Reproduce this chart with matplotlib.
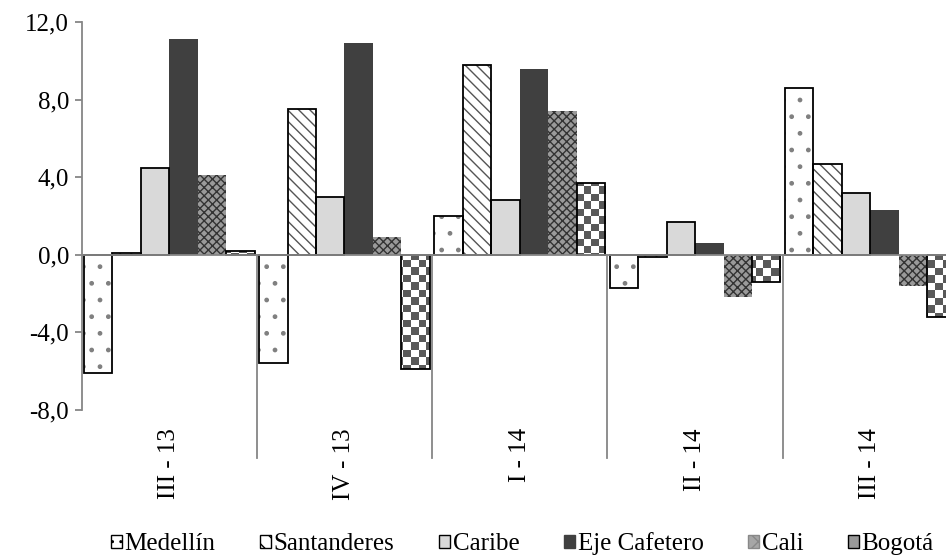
import matplotlib
matplotlib.use("Agg")
import matplotlib.pyplot as plt
from matplotlib.patches import Patch
from matplotlib.colors import ListedColormap
import numpy as np

plt.rcParams['font.family'] = ['Liberation Serif', 'DejaVu Serif']
plt.rcParams['hatch.linewidth'] = 1.0

periodos = ["III - 13", "IV - 13", "I - 14", "II - 14", "III - 14"]
ciudades = ["Medellín", "Santanderes", "Caribe", "Eje Cafetero", "Cali", "Bogotá"]

medellin = [-6.1, -5.6, 2.0, -1.7, 8.6]
santanderes = [0.1, 7.5, 9.8, -0.1, 4.7]
caribe = [4.5, 3.0, 2.8, 1.7, 3.2]
eje_cafetero = [11.1, 10.9, 9.6, 0.6, 2.3]
cali = [4.1, 0.9, 7.4, -2.2, -1.6]
bogota = [0.2, -5.9, 3.7, -1.4, -3.2]

series = [medellin, santanderes, caribe, eje_cafetero, cali, bogota]

FS = 18
GRIS = '#868686'

fig = plt.figure(figsize=(9.46, 5.56), dpi=100)
ax = fig.add_axes([0.0862, 0.2626, 0.9265, 0.6978])

x = np.arange(len(periodos))
w = 0.1624

# estilos por serie: (cara, trama, color trama, borde)
estilos = [
    ('white', '.', '#808080', 'black'),
    ('white', '\\\\\\', '#555555', 'black'),
    ('#d9d9d9', None, None, 'black'),
    ('#404040', None, None, None),
    ('#9a9a9a', 'xxxx', '#333333', None),
    ('white', None, None, 'black'),
]

bogota_bars = None
for k, (vals, est) in enumerate(zip(series, estilos)):
    cara, trama, ctrama, borde = est
    pos = x + (k - 2.5) * w
    if trama:
        ax.bar(pos, vals, w, color=cara, hatch=trama, edgecolor=ctrama,
               linewidth=0, zorder=2)
    else:
        bars = ax.bar(pos, vals, w, color=cara, linewidth=0, zorder=2)
        if k == 5:
            bogota_bars = bars
    if borde:
        ax.bar(pos, vals, w, fill=False, edgecolor=borde, linewidth=1.3, zorder=4)

# tablero de ajedrez para Bogotá
fw, fh = fig.get_size_inches() * fig.dpi
pos_ax = ax.get_position()
nx = int(pos_ax.width * fw / 7.5) + 1
ny = int(pos_ax.height * fh / 7.5) + 1
tablero = (np.add.outer(np.arange(ny), np.arange(nx)) % 2)
cmap = ListedColormap(['white', '#595959'])
for b in bogota_bars:
    im = ax.imshow(tablero, cmap=cmap, extent=[0, 1, 0, 1], transform=ax.transAxes,
                   interpolation='nearest', aspect='auto', zorder=3)
    im.set_clip_path(b)

ax.set_xlim(-0.5, len(periodos) - 0.5)
ax.set_ylim(-8, 12)

ax.axhline(0, color=GRIS, linewidth=1.3, zorder=5)
for s in np.arange(0.5, len(periodos) - 0.5):
    ax.plot([s, s], [0, -10.5], color=GRIS, linewidth=1.3, clip_on=False, zorder=1)

for lado in ['top', 'right', 'bottom']:
    ax.spines[lado].set_visible(False)
ax.spines['left'].set_color(GRIS)
ax.spines['left'].set_linewidth(1.3)

ax.set_yticks([-8, -4, 0, 4, 8, 12])
ax.set_yticklabels([f"{v:.1f}".replace('.', ',') for v in [-8, -4, 0, 4, 8, 12]])
ax.tick_params(axis='y', colors=GRIS, labelcolor='black', length=5, width=1.3,
               labelsize=FS, pad=4)
ax.set_xticks(x)
ax.set_xticklabels(periodos, rotation=90)
ax.tick_params(axis='x', length=0, labelsize=FS, pad=13)

handles = [
    Patch(facecolor='white', edgecolor='black', hatch='..'),
    Patch(facecolor='white', edgecolor='black', hatch='\\\\'),
    Patch(facecolor='#d9d9d9', edgecolor='black'),
    Patch(facecolor='#404040', edgecolor='#404040'),
    Patch(facecolor='#a6a6a6', edgecolor='#888888', hatch='xx'),
    Patch(facecolor='#999999', edgecolor='black'),
]
fig.legend(handles, ciudades, loc='center', bbox_to_anchor=(0.552, 0.022),
           ncol=6, frameon=False, fontsize=FS, handlelength=0.45, handleheight=0.45,
           handletextpad=0.1, columnspacing=1.78, borderpad=0)

fig.savefig("out.png", dpi=100)
